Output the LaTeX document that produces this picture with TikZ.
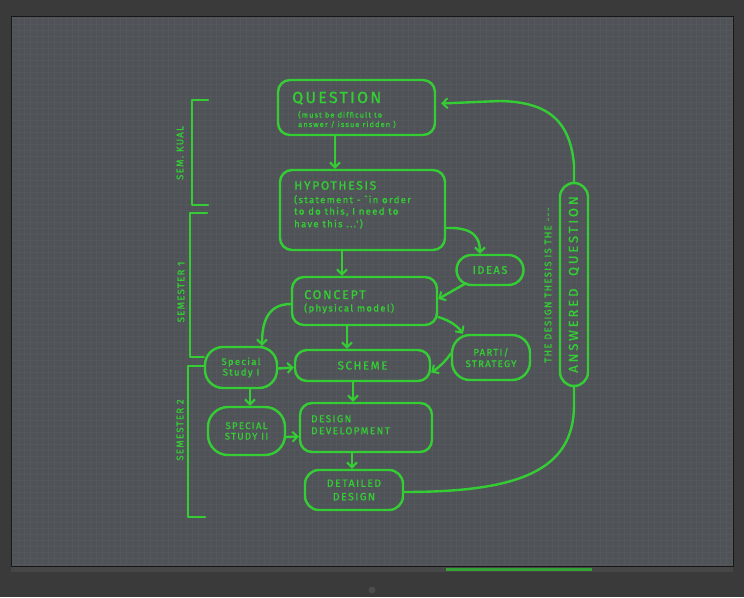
\documentclass[tikz,border=0pt]{standalone}
\usepackage{fontspec}
\setmainfont{Fira Sans}
\newfontfamily\hand[LetterSpace=14,FakeBold=1.2]{Fira Sans}
\usetikzlibrary{arrows.meta,calc}
\definecolor{framec}{RGB}{58,58,58}
\definecolor{panelc}{RGB}{79,83,88}
\definecolor{gridc}{RGB}{84,88,93}
\definecolor{pen}{RGB}{52,205,52}
\definecolor{stripc}{RGB}{70,70,70}
\newcommand{\fs}[1]{\fontsize{#1}{#1}\selectfont}
\tikzset{
  ink/.style={draw=pen, line width=2.4pt, line cap=round, line join=round},
  box/.style={ink, rounded corners=12pt, text=pen, align=center, inner sep=2pt},
  pillbox/.style={ink, rounded corners=14pt},
  arr/.style={ink, -{Straight Barb[length=5pt,width=10pt,line width=2pt]}},
  lbl/.style={text=pen, inner sep=0pt}
}
\begin{document}
\begin{tikzpicture}[x=1pt,y=-1pt]
\useasboundingbox (0,0) rectangle (744,597);
\fill[framec] (0,0) rectangle (744,597);
\fill[stripc] (11,566) rectangle (733,572);
\fill[panelc] (11,16) rectangle (733,566);
\draw[gridc, line width=0.4pt, step=6pt] (11,16) grid (733,566);
\draw[black!60!framec, line width=1pt] (11,16) rectangle (733,566);
\fill[pen!70!framec] (446,568) rectangle (592,571);
\fill[black!70] (372,590) circle (3.5);

% nodes
\node[box, minimum width=157pt, minimum height=55pt] (q) at (356.5,107.5) {};
\node[lbl, anchor=base west, font=\hand\fs{16}] (qt) at (292,103) {QUESTION};
\node[lbl, anchor=north west, align=left, font=\hand\fs{7.5}] (qs) at (298,111)
  {(must be difficult to\\[2pt] answer / issue ridden )};
\node[box, minimum width=165pt, minimum height=80pt] (h) at (362.5,210) {};
\node[lbl, anchor=north west, align=left, font=\hand\fs{9.5}] (ht) at (294,181)
  {{\fs{12}HYPOTHESIS}\\[4pt](statement - `in order\\[2pt]to do this, I need to\\[2pt]have this ...')};
\node[box, rounded corners=15pt, minimum width=67pt, minimum height=30pt, font=\hand\fs{11}] (ideas) at (490,270) {IDEAS};
\node[box, minimum width=145pt, minimum height=48pt] (c) at (364.5,301) {};
\node[lbl, anchor=north west, align=left, font=\hand\fs{9.5}] (ct) at (304,290)
  {{\fs{12.5}CONCEPT}\\[3pt](physical model)};
\node[box, rounded corners=18pt, minimum width=78pt, minimum height=45pt, font=\hand\fs{9.5}] (parti) at (491,357.5) {PARTI/\\[2pt]STRATEGY};
\node[box, rounded corners=18pt, minimum width=72pt, minimum height=41pt, font=\hand\fs{9.5}] (ss1) at (241,367.5) {Special\\[1pt]Study I};
\node[box, minimum width=135pt, minimum height=31pt, font=\hand\fs{11.5}] (s) at (362.5,365.5) {SCHEME};
\node[box, rounded corners=20pt, minimum width=77pt, minimum height=48pt, font=\hand\fs{9.5}] (ss2) at (246.5,431) {SPECIAL\\[1pt]STUDY II};
\node[box, minimum width=132pt, minimum height=49pt] (dd) at (366,427.5) {};
\node[lbl, anchor=north west, align=left, font=\hand\fs{10}] (ddt) at (311,415) {DESIGN\\[2pt]DEVELOPMENT};
\node[box, rounded corners=14pt, minimum width=98pt, minimum height=40pt, font=\hand\fs{10.5}] (det) at (354,490) {DETAILED\\[3pt]DESIGN};
\node[pillbox, minimum width=28pt, minimum height=203pt] (pill) at (574,284.5) {};
\node[lbl, rotate=90, font={\hand\addfontfeature{LetterSpace=22}\fs{13}}] (ans) at (pill.center) {ANSWERED\ \ QUESTION};
\node[lbl, rotate=90, font=\hand\fs{9.5}] (thesis) at (548,285) {THE DESIGN THESIS IS THE ---};

% brackets
\draw[ink] (208,100) -- (192,100) -- (192,205) -- (208,205);
\draw[ink] (207,213) -- (190,213) -- (190,357) -- (ss1.west |- 0,357);
\draw[ink] (ss1.west |- 0,366) -- (188,366) -- (188,517) -- (205,517);
\node[lbl, rotate=90, font=\hand\fs{9.5}] (b1) at (180,153) {SEM. KUAL};
\node[lbl, rotate=90, font=\hand\fs{9.5}] (b2) at (181,292) {SEMESTER 1};
\node[lbl, rotate=90, font=\hand\fs{9.5}] (b3) at (180,430) {SEMESTER 2};

% connectors
\draw[arr] (q.south -| 335,0) -- (h.north -| 335,0);
\draw[arr] (h.south -| 342,0) -- (c.north -| 342,0);
\draw[arr] ([yshift=-18pt]h.east) .. controls (474,227) and (480,238) .. ([xshift=-10pt]ideas.north);
\draw[arr] ([xshift=-24pt,yshift=3pt]ideas.south) -- ([yshift=2pt]c.east);
\draw[arr] ([yshift=-3pt]c.west) .. controls (266,304) and (262,325) .. ([xshift=21pt]ss1.north);
\draw[arr] (c.south -| 347,0) -- (s.north -| 347,0);
\draw[arr] ([yshift=-16pt]c.east) .. controls (452,321) and (459,328) .. ([xshift=-28pt]parti.north);
\draw[arr] ([yshift=4pt]parti.west) .. controls (446,361) and (438,368) .. ([yshift=-7pt]s.east);
\draw[arr] ([yshift=-1pt]ss1.east) -- ([yshift=-2pt]s.west);
\draw[arr] (ss1.south -| 250,0) -- (ss2.north -| 250,0);
\draw[arr] (s.south -| 353,0) -- (dd.north -| 353,0);
\draw[arr] ([yshift=-6pt]ss2.east) -- ([yshift=-9pt]dd.west);
\draw[arr] (dd.south -| 352,0) -- (det.north -| 352,0);
\draw[ink] ([yshift=-2pt]det.east) .. controls (520,492) and (574,470) .. (574,405) -- (pill.south);
\draw[arr] (pill.north) -- (574,165) .. controls (570,118) and (545,102) .. (500,101) -- ([xshift=5pt,yshift=4pt]q.east);
\end{tikzpicture}
\end{document}
